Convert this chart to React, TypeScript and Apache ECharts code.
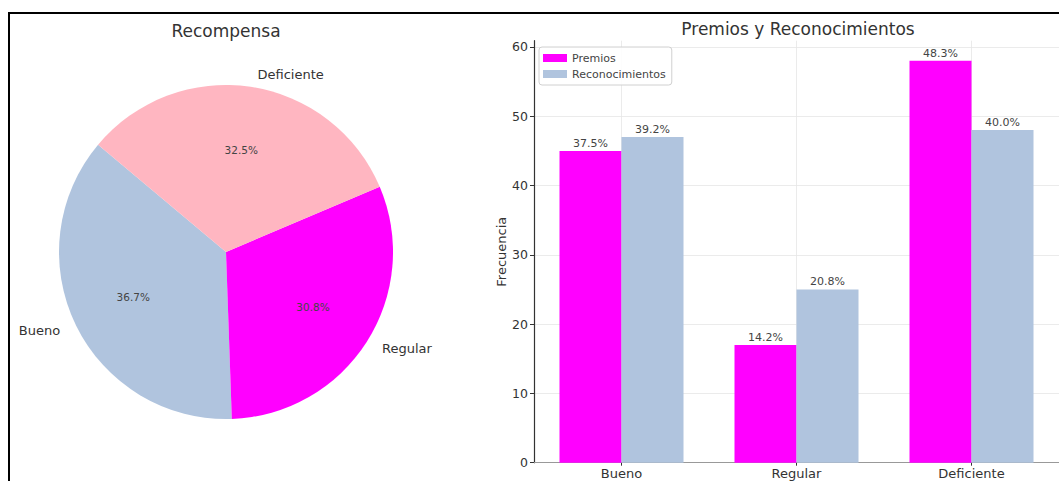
import React, { useEffect, useRef } from "react";
import * as echarts from "echarts";

const pieTitle = "Recompensa";
const barTitle = "Premios y Reconocimientos";
const pieNames = ["Bueno", "Regular", "Deficiente"];
const pieValues = [44, 37, 39];
const pieColors = ["#B0C4DE", "#FF00FF", "#FFB6C1"];

const categories = ["Bueno", "Regular", "Deficiente"];
const premios = [45, 17, 58];
const reconocimientos = [47, 25, 48];
const barColors = ["#FF00FF", "#B0C4DE"];
const yTicksMax = 60.9;

const FONT = "DejaVu Sans";

export default function App() {
  const ref = useRef<HTMLDivElement>(null);

  useEffect(() => {
    if (!ref.current) return;
    const chart = echarts.init(ref.current, null, { renderer: "svg" });
    const sumP = premios.reduce((a, b) => a + b, 0);
    const sumR = reconocimientos.reduce((a, b) => a + b, 0);
    const pieData = pieNames.map((n, i) => ({ name: n, value: pieValues[i], itemStyle: { color: pieColors[i] } }));
    const R = 167;
    const center = [226, 252];

    chart.setOption({
      animation: false,
      backgroundColor: "#fff",
      textStyle: { fontFamily: FONT },
      title: [
        { text: pieTitle, left: 226, top: 22, textAlign: "center", padding: 0,
          textStyle: { fontFamily: FONT, fontSize: 17, fontWeight: "normal", color: "#333" } },
        { text: barTitle, left: 798, top: 20, textAlign: "center", padding: 0,
          textStyle: { fontFamily: FONT, fontSize: 17, fontWeight: "normal", color: "#333" } },
      ],
      legend: {
        orient: "vertical",
        left: 539,
        top: 47,
        padding: [5, 6, 5, 4],
        itemGap: 4,
        itemWidth: 24,
        itemHeight: 8,
        icon: "rect",
        backgroundColor: "rgba(255,255,255,0.9)",
        borderColor: "#d0d0d0",
        borderWidth: 1,
        borderRadius: 3,
        textStyle: { fontFamily: FONT, fontSize: 11, color: "#444", lineHeight: 12 },
        data: ["Premios", "Reconocimientos"],
      },
      grid: { left: 534, top: 40.7, width: 529, height: 422, containLabel: false },
      xAxis: {
        type: "category",
        data: categories,
        axisLine: { show: true, lineStyle: { color: "#999", width: 1.2 } },
        axisTick: { show: true, alignWithLabel: true, length: 3, lineStyle: { color: "#333" } },
        axisLabel: { fontFamily: FONT, fontSize: 13, color: "#333", margin: 4 },
        splitLine: { show: true, alignWithLabel: true, lineStyle: { color: "#e6e6e6", width: 0.8 } },
      },
      yAxis: {
        type: "value",
        min: 0,
        max: yTicksMax,
        interval: 10,
        name: "Frecuencia",
        nameLocation: "middle",
        nameGap: 25,
        nameTextStyle: { fontFamily: FONT, fontSize: 13, color: "#333" },
        axisLine: { show: true, lineStyle: { color: "#333", width: 1.2 } },
        axisTick: { show: true, length: 4, lineStyle: { color: "#333" } },
        axisLabel: { fontFamily: FONT, fontSize: 12.5, color: "#333", margin: 6, showMaxLabel: false },
        splitLine: {
          show: true,
          lineStyle: {
            color: ["#e6e6e6", "#e6e6e6", "#e6e6e6", "#e6e6e6", "#e6e6e6", "#e6e6e6", "#e6e6e6", "rgba(0,0,0,0)"],
            width: 0.8,
          },
        },
      },
      series: [
        {
          type: "pie",
          center,
          radius: [0, R],
          startAngle: 140,
          clockwise: false,
          avoidLabelOverlap: false,
          silent: true,
          data: pieData,
          label: {
            show: true,
            position: "outside",
            formatter: "{b}",
            fontFamily: FONT,
            fontSize: 13,
            color: "#333",
          },
          labelLine: { show: false, length: 12, length2: 0 },
          itemStyle: { borderWidth: 0 },
          emphasis: { disabled: true },
        },
        {
          type: "pie",
          center,
          radius: [R * 0.2, R],
          startAngle: 140,
          clockwise: false,
          avoidLabelOverlap: false,
          silent: true,
          data: pieNames.map((n, i) => ({ name: n, value: pieValues[i] })),
          itemStyle: { color: "rgba(0,0,0,0)", borderWidth: 0 },
          label: {
            show: true,
            position: "inside",
            formatter: (p: any) => p.percent.toFixed(1) + "%",
            fontFamily: FONT,
            fontSize: 10.5,
            color: "#444",
          },
          labelLine: { show: false },
          emphasis: { disabled: true },
        },
        {
          type: "bar",
          name: "Premios",
          data: premios,
          barWidth: 62,
          barGap: "0%",
          itemStyle: { color: barColors[0] },
          label: {
            show: true,
            position: "top",
            distance: 2,
            formatter: (p: any) => ((p.value / sumP) * 100).toFixed(1) + "%",
            fontFamily: FONT,
            fontSize: 11,
            color: "#444",
          },
        },
        {
          type: "bar",
          name: "Reconocimientos",
          data: reconocimientos,
          barWidth: 62,
          barGap: "0%",
          itemStyle: { color: barColors[1] },
          label: {
            show: true,
            position: "top",
            distance: 2,
            formatter: (p: any) => ((p.value / sumR) * 100).toFixed(1) + "%",
            fontFamily: FONT,
            fontSize: 11,
            color: "#444",
          },
        },
      ],
    });
    return () => chart.dispose();
  }, []);

  return (
    <div style={{ position: "fixed", left: 0, top: 0, width: 1059, height: 481, background: "#fff", overflow: "hidden" }}>
      <div ref={ref} style={{ position: "absolute", left: 0, top: 0, width: 1059, height: 481 }} />
      <div
        style={{
          position: "absolute",
          left: 8,
          top: 12,
          width: 1060,
          height: 480,
          borderTop: "2px solid #000",
          borderLeft: "2px solid #000",
          pointerEvents: "none",
        }}
      />
    </div>
  );
}
